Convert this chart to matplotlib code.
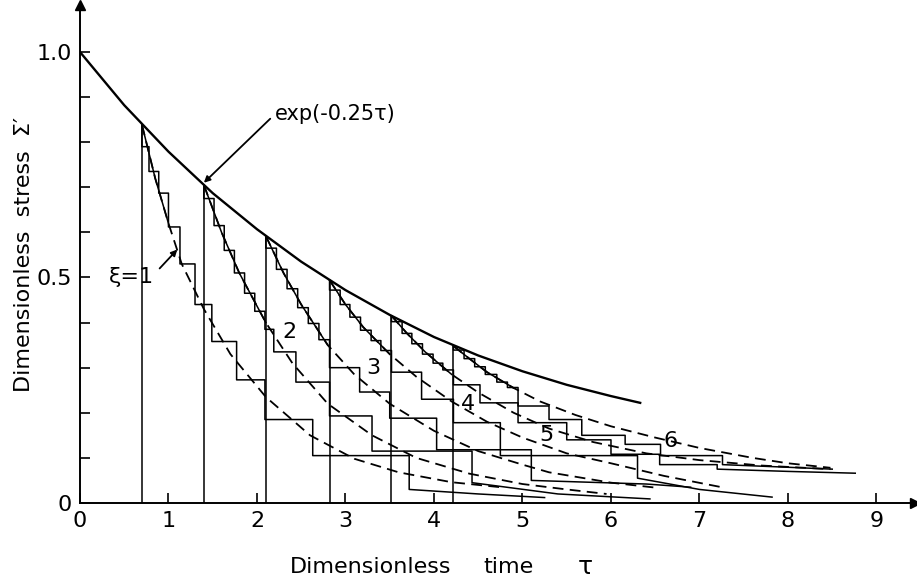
import matplotlib.pyplot as plt
import numpy as np

plt.switch_backend("Agg")

# envelope, labelled exp(-0.25 tau)
ENV_T = [0.0, 0.5, 1.0, 1.5, 2.0, 2.5, 3.0, 3.5, 4.0, 4.5, 5.0, 5.5, 6.0, 6.33]
ENV_S = [1.0, 0.882, 0.779, 0.687, 0.607, 0.535, 0.472, 0.417, 0.368, 0.327, 0.292, 0.262, 0.237, 0.222]

# loading instants (vertical lines) and their peak stress
LOAD_T = [0.70, 1.40, 2.10, 2.82, 3.52, 4.22]
LOAD_S = [0.839, 0.705, 0.592, 0.494, 0.415, 0.348]

# dashed relaxation curves, xi = 1..6
DASH_T = [
    [0.70, 0.85, 1.00, 1.15, 1.40, 1.70, 2.10, 2.60, 3.10, 3.60, 4.20, 4.80],
    [1.40, 1.60, 1.80, 2.10, 2.40, 2.80, 3.30, 3.80, 4.40, 5.00, 5.50, 5.95],
    [2.10, 2.30, 2.50, 2.80, 3.10, 3.50, 4.00, 4.50, 5.00, 5.30, 6.00, 6.55],
    [2.82, 3.00, 3.20, 3.50, 3.80, 4.20, 4.60, 5.00, 5.50, 6.00, 6.60, 7.25],
    [3.52, 3.70, 3.90, 4.20, 4.50, 4.90, 5.30, 5.80, 6.40, 7.00, 7.70, 8.48],
    [4.22, 4.40, 4.60, 4.90, 5.20, 5.60, 6.00, 6.50, 7.00, 7.60, 8.00, 8.48],
]
DASH_S = [
    [0.839, 0.720, 0.620, 0.530, 0.430, 0.330, 0.235, 0.150, 0.098, 0.068, 0.046, 0.034],
    [0.705, 0.600, 0.510, 0.400, 0.310, 0.220, 0.150, 0.100, 0.065, 0.042, 0.030, 0.020],
    [0.592, 0.510, 0.440, 0.350, 0.285, 0.220, 0.160, 0.115, 0.085, 0.068, 0.045, 0.033],
    [0.494, 0.440, 0.390, 0.330, 0.280, 0.225, 0.180, 0.145, 0.110, 0.088, 0.060, 0.035],
    [0.415, 0.375, 0.335, 0.285, 0.245, 0.200, 0.165, 0.135, 0.110, 0.095, 0.083, 0.075],
    [0.348, 0.320, 0.290, 0.255, 0.225, 0.195, 0.170, 0.145, 0.122, 0.100, 0.088, 0.078],
]
# end of the fine saw-tooth part of each group
FINE_END = [1.00, 2.10, 2.82, 3.52, 4.22, 4.95]

# stepwise solution: step edges and step levels
STEP_T = [
    [0.70, 0.78, 0.89, 1.00, 1.13, 1.30, 1.49, 1.77, 2.09, 2.63, 3.72],
    [1.40, 1.515, 1.63, 1.745, 1.86, 1.975, 2.09, 2.19, 2.44, 2.82, 3.30, 4.43],
    [2.10, 2.22, 2.34, 2.46, 2.58, 2.70, 2.82, 3.16, 3.50, 4.03, 5.10],
    [2.82, 2.94, 3.05, 3.17, 3.29, 3.40, 3.52, 3.86, 4.22, 4.75, 6.30],
    [3.52, 3.64, 3.75, 3.87, 3.99, 4.10, 4.22, 4.52, 4.95, 5.50, 6.00, 6.55, 7.20],
    [4.22, 4.34, 4.46, 4.58, 4.71, 4.83, 4.95, 5.30, 5.67, 6.16, 6.56, 7.26],
]
STEP_S = [
    [0.790, 0.735, 0.687, 0.612, 0.530, 0.440, 0.358, 0.273, 0.185, 0.105],
    [0.675, 0.615, 0.560, 0.510, 0.465, 0.425, 0.385, 0.335, 0.268, 0.193, 0.115],
    [0.565, 0.518, 0.475, 0.433, 0.398, 0.362, 0.300, 0.246, 0.188, 0.118],
    [0.472, 0.440, 0.412, 0.383, 0.360, 0.338, 0.290, 0.230, 0.178, 0.105],
    [0.402, 0.376, 0.353, 0.330, 0.310, 0.295, 0.262, 0.222, 0.178, 0.140, 0.108, 0.085],
    [0.339, 0.320, 0.302, 0.285, 0.268, 0.256, 0.215, 0.185, 0.150, 0.130, 0.105],
]
# solid tails after the last step
TAIL_T = [
    [3.72, 4.50, 5.25],
    [4.43, 5.40, 6.44],
    [5.10, 6.40, 6.90],
    [6.30, 7.00, 7.82],
    [7.20, 8.00, 8.76],
    [7.26, 7.90, 8.50],
]
TAIL_S = [
    [0.030, 0.020, 0.012],
    [0.045, 0.020, 0.009],
    [0.050, 0.042, 0.035],
    [0.055, 0.030, 0.013],
    [0.075, 0.070, 0.066],
    [0.085, 0.080, 0.075],
]

GROUP_LABELS = ["2", "3", "4", "5", "6"]
LABEL_T = [2.37, 3.31, 4.38, 5.27, 6.67]
LABEL_S = [0.38, 0.30, 0.22, 0.150, 0.137]

X_TICKS = list(range(10))
Y_TICKS = [0.0, 0.1, 0.2, 0.3, 0.4, 0.5, 0.6, 0.7, 0.8, 0.9, 1.0]
Y_TICK_LABELS = ["0", "", "", "", "", "0.5", "", "", "", "", "1.0"]


def stair_path(peak, edges, levels, tail_t, tail_s):
    xs, ys = [edges[0]], [peak]
    for i, level in enumerate(levels):
        xs += [edges[i], edges[i + 1]]
        ys += [level, level]
    xs += list(tail_t)
    ys += list(tail_s)
    return xs, ys


fig = plt.figure(figsize=(9.17, 5.81), dpi=100)
ax = fig.add_axes([0.0872, 0.1343, 0.9106, 0.857])
lw = 1.1

ax.plot(ENV_T, ENV_S, color="black", lw=1.7)
ax.vlines(LOAD_T, 0, LOAD_S, color="black", lw=lw)

for k in range(6):
    dt = np.asarray(DASH_T[k])
    ds = np.asarray(DASH_S[k])
    ax.plot(dt, ds, color="black", lw=1.3, dashes=(6, 3.5))
    fine = dt <= FINE_END[k] + 1e-9
    ax.plot(dt[fine], ds[fine], color="black", lw=lw)
    xs, ys = stair_path(LOAD_S[k], STEP_T[k], STEP_S[k], TAIL_T[k], TAIL_S[k])
    ax.plot(xs, ys, color="black", lw=lw)

fs = 16
ax.text(2.2, 0.862, "exp(-0.25τ)", fontsize=15, ha="left", va="center")
ax.annotate("", xy=(1.40, 0.71), xytext=(2.15, 0.852),
            arrowprops=dict(arrowstyle="-|>", color="black", lw=1.3,
                            mutation_scale=9, shrinkA=0, shrinkB=0))
ax.text(0.58, 0.50, "ξ=1", fontsize=fs, ha="center", va="center")
ax.annotate("", xy=(1.10, 0.562), xytext=(0.90, 0.52),
            arrowprops=dict(arrowstyle="-|>", color="black", lw=1.3,
                            mutation_scale=9, shrinkA=0, shrinkB=0))
for lab, t, s in zip(GROUP_LABELS, LABEL_T, LABEL_S):
    ax.text(t, s, lab, fontsize=fs, ha="center", va="center")

ax.set_xlim(0, 9.435)
ax.set_ylim(0, 1.104)
for side in ("top", "right"):
    ax.spines[side].set_visible(False)
for side in ("left", "bottom"):
    ax.spines[side].set_linewidth(1.4)
ax.plot(1, 0, ">k", ms=7, transform=ax.transAxes, clip_on=False)
ax.plot(0, 1, "^k", ms=7, transform=ax.transAxes, clip_on=False)

ax.set_xticks(X_TICKS)
ax.set_xticklabels([str(t) for t in X_TICKS])
ax.set_yticks(Y_TICKS)
ax.set_yticklabels(Y_TICK_LABELS)
ax.tick_params(direction="in", length=7, width=1.2, labelsize=fs, pad=6)

# axis titles, words spaced as in the original
fig.text(371 / 917, 1 - 567 / 581, "Dimensionless", fontsize=fs, ha="center", va="center")
fig.text(508 / 917, 1 - 567 / 581, "time", fontsize=fs, ha="center", va="center")
fig.text(585 / 917, 1 - 567 / 581, "τ", fontsize=fs + 2, ha="center", va="center")
fig.text(24 / 917, 1 - 255 / 581, "Dimensionless  stress  Σ′", fontsize=fs,
         ha="center", va="center", rotation=90)

fig.savefig("out.png", dpi=100)
